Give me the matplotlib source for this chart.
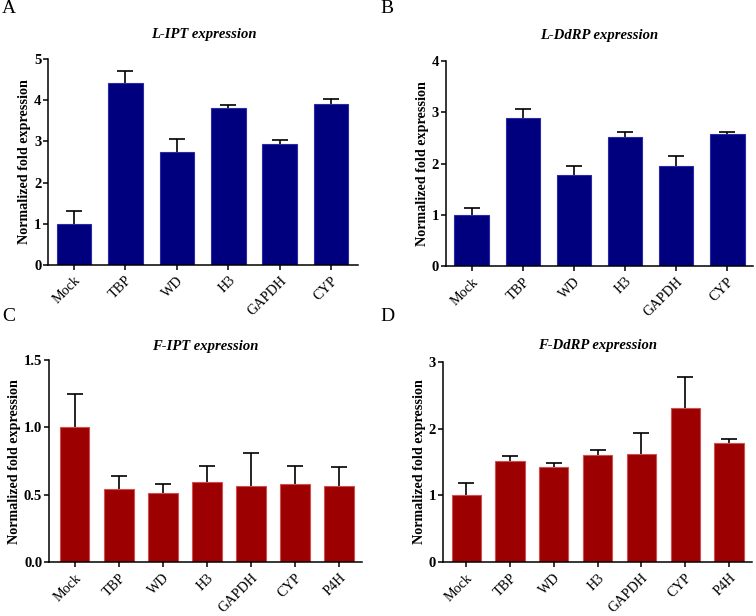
import numpy as np
import matplotlib.pyplot as plt

plt.rcParams['font.family'] = ['Liberation Serif', 'DejaVu Serif']

# panel A - L-IPT
genes_l = ["Mock", "TBP", "WD", "H3", "GAPDH", "CYP"]
lipt_mean = [1.0, 4.43, 2.74, 3.81, 2.94, 3.92]
lipt_err = [0.32, 0.27, 0.31, 0.07, 0.10, 0.12]

# panel B - L-DdRP
lddrp_mean = [1.0, 2.88, 1.77, 2.51, 1.95, 2.57]
lddrp_err = [0.14, 0.18, 0.19, 0.10, 0.20, 0.04]

# panel C - F-IPT
genes_f = ["Mock", "TBP", "WD", "H3", "GAPDH", "CYP", "P4H"]
fipt_mean = [1.0, 0.54, 0.513, 0.596, 0.564, 0.584, 0.562]
fipt_err = [0.25, 0.10, 0.067, 0.114, 0.246, 0.129, 0.144]

# panel D - F-DdRP
fddrp_mean = [1.0, 1.52, 1.42, 1.60, 1.62, 2.30, 1.79]
fddrp_err = [0.19, 0.07, 0.07, 0.08, 0.32, 0.47, 0.05]

blue = "#00007f"
blue_edge = "#2a2aa8"
red = "#9c0000"
red_edge = "#d05050"

fig = plt.figure(figsize=(7.56, 6.16), dpi=100)

panels = [
    # rect, letter, letter pos, title, title pad, labels, means, errs, color, edge, ymax, ystep, fmt, xlim
    ([0.064, 0.570, 0.410, 0.334], "A", (0.003, 0.987), "L-IPT expression", 15, genes_l, lipt_mean, lipt_err, blue, blue_edge, 5, 1, "%d", (-0.5, 5.53)),
    ([0.590, 0.568, 0.406, 0.333], "B", (0.503, 0.987), "L-DdRP expression", 16, genes_l, lddrp_mean, lddrp_err, blue, blue_edge, 4, 1, "%d", (-0.5, 5.5)),
    ([0.065, 0.087, 0.414, 0.329], "C", (0.003, 0.487), "F-IPT expression", 7, genes_f, fipt_mean, fipt_err, red, red_edge, 1.5, 0.5, "%.1f", (-0.58, 6.52)),
    ([0.586, 0.087, 0.409, 0.326], "D", (0.503, 0.487), "F-DdRP expression", 9, genes_f, fddrp_mean, fddrp_err, red, red_edge, 3, 1, "%d", (-0.53, 6.53)),
]

for rect, letter, lpos, title, tpad, labels, means, errs, col, edge, ymax, ystep, fmt, xl in panels:
    ax = fig.add_axes(rect)
    x = np.arange(len(labels))
    # error bars behind the bars so only the upper half shows
    ax.errorbar(x, means, yerr=errs, fmt='none', ecolor='black', elinewidth=1.2,
                capsize=5.8, capthick=1.2, zorder=1)
    ax.bar(x, means, width=0.67, color=col, edgecolor=edge, linewidth=0.8, zorder=2)
    ax.set_xlim(*xl)
    ax.set_ylim(0, ymax)
    ax.set_yticks(np.arange(0, ymax + ystep / 2, ystep))
    ax.yaxis.set_major_formatter(plt.FormatStrFormatter(fmt))
    ax.set_xticks(x)
    ax.set_xticklabels(labels, rotation=45, ha='right', rotation_mode='anchor', fontsize=10.2)
    for t in ax.get_yticklabels():
        t.set_fontweight('bold')
        t.set_fontsize(10.5)
    ax.spines['top'].set_visible(False)
    ax.spines['right'].set_visible(False)
    ax.spines['left'].set_linewidth(1.1)
    ax.spines['bottom'].set_linewidth(1.1)
    ax.tick_params(direction='out', length=3.5, width=1.1)
    ax.tick_params(axis='y', pad=1.5)
    ax.tick_params(axis='x', pad=3)
    ax.set_ylabel("Normalized fold expression", fontsize=10.2, fontweight='bold', labelpad=2)
    ax.set_title(title, fontsize=10.5, fontweight='bold', fontstyle='italic', pad=tpad)
    fig.text(lpos[0], lpos[1], letter, fontsize=14, ha='left', va='center')

plt.savefig("out.png", dpi=100)
